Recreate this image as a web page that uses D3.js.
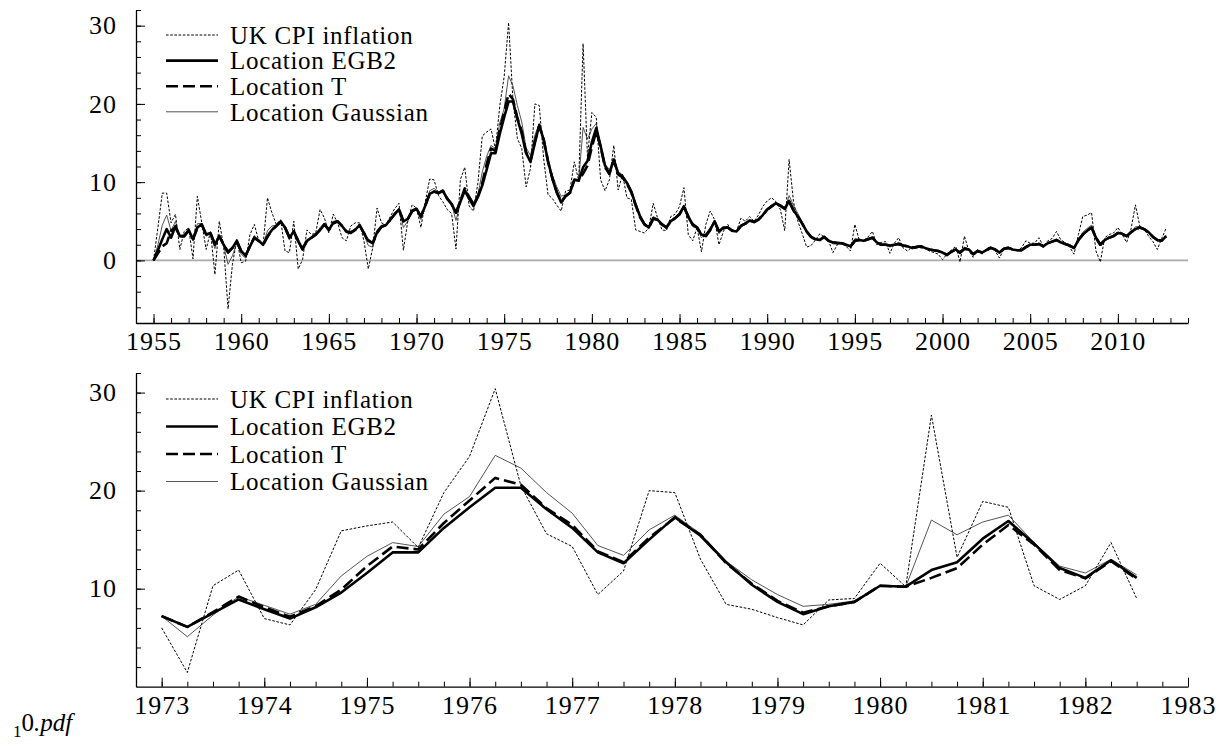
<!DOCTYPE html>
<html>
<head>
<meta charset="utf-8">
<script src="https://cdn.jsdelivr.net/npm/d3@7"></script>
<style>
  body { margin: 0; background: #fff; }
  svg { display: block; }
</style>
</head>
<body>
<div id="chart"></div>
<script>
// UK CPI inflation and estimated location, quarterly, first value 1955Q1
var startYear = 1955;

var cpi = [
  0, 4.2, 8.6, 8.6,   4.8, 5.9, 1.4, 3.7,   4.2, 0.2, 8.2, 4.8,   1.4, 3.7, -1.8, 5.0,
  1.8, -6.2, -0.5, 2.7,   -0.3, -0.1, 3.3, 4.6,   2.5, 2.0, 8.0, 6.1,   4.6, 5.2, 1.2, 1.0,
  5.0, -1.1, 0.1, 3.9,   3.3, 3.5, 6.5, 5.4,   3.5, 5.9, 4.8, 2.9,   2.5, 4.4, 4.8, 4.8,
  2.5, -1.1, 1.6, 6.7,   4.8, 4.5, 5.6, 6.6,   7.3, 1.3, 5.0, 7.1,   6.7, 4.2, 7.5, 10.4,
  10.3, 8.3, 7.5, 6.5,   6.0, 1.45, 10.3, 11.9,   6.95, 6.3, 9.9, 15.9,   16.4, 16.8, 14.2, 19.8,
  23.5, 30.4, 20.5, 15.6,   14.3, 9.4, 11.8, 20.0,   19.8, 13.0, 8.4, 7.9,   7.05, 6.3, 8.85, 9.0,
  12.6, 10.2, 27.7, 13.2,   18.9, 18.3, 10.3, 8.9,   10.3, 14.7, 9.0, 11.0,   8.0, 7.8, 3.9, 3.7,
  3.5, 4.2, 7.3, 5.4,   3.9, 3.8, 5.6, 5.9,   6.9, 9.3, 3.3, 2.5,   4.2, 1.1, 4.6, 6.3,
  5.2, 2.0, 3.7, 4.6,   3.7, 3.7, 5.4, 5.0,   5.6, 5.0, 5.8, 6.9,   7.6, 8.0, 7.5, 6.5,
  3.8, 12.9, 7.5, 5.0,   3.4, 1.7, 1.9, 2.6,   3.4, 3.0, 2.5, 1.0,   2.0, 2.3, 1.8, 1.2,
  4.6, 2.6, 2.5, 3.0,   3.7, 2.0, 2.3, 2.4,   0.9, 2.2, 2.9, 1.6,   1.2, 1.7, 1.8, 1.6,
  1.5, 1.2, 1.0, 0.8,   0.1, 0.8, 1.3, 1.8,   -0.2, 3.1, 1.2, 0.4,   1.4, 0.8, 1.5, 1.8,
  1.2, 0.3, 1.5, 1.7,   1.4, 1.3, 1.6, 2.5,   2.2, 2.2, 2.9, 1.8,   2.5, 2.8, 3.7, 2.6,
  2.3, 1.7, 0.8, 3.3,   5.6, 5.8, 6.1, 1.2,   -0.2, 2.9, 3.3, 3.5,   4.2, 3.3, 2.3, 4.0,
  7.1, 4.4, 4.0, 3.1,   2.4, 1.4, 2.8, 4.1
];

var egb2 = [
  0, 1.3, 2.7, 4.0,   2.9, 4.4, 3.1, 3.1,   3.9, 2.7, 4.2, 4.6,   3.3, 3.5, 2.0, 3.1,
  2.0, 1.0, 1.6, 2.5,   1.2, 0.6, 1.8, 2.9,   2.5, 2.0, 3.1, 3.9,   4.4, 5.0, 4.2, 2.9,
  3.7, 2.5, 1.4, 2.5,   2.9, 3.3, 3.9, 4.6,   3.9, 4.8, 5.0, 4.4,   3.7, 3.5, 3.9, 4.5,
  3.5, 2.5, 2.2, 3.6,   4.3, 4.5, 5.2, 5.9,   6.5, 5.0, 5.3, 6.3,   6.6, 5.6, 7.0, 8.5,
  8.8, 8.6, 8.9, 7.9,   7.2, 6.1, 7.5, 8.9,   7.9, 6.95, 8.1, 9.6,   11.6, 13.7, 13.7, 16.2,
  18.3, 20.3, 20.3, 18.1,   16.2, 13.7, 12.6, 15.0,   17.3, 15.4, 12.7, 10.4,   8.65, 7.4, 8.2, 8.65,
  10.3, 10.2, 11.9, 12.7,   15.1, 16.9, 14.6, 12.1,   11.1, 12.9, 11.1, 10.7,   9.9, 8.8, 7.1, 5.6,
  4.6, 4.2, 5.4, 5.2,   4.6, 4.2, 5.0, 5.4,   5.9, 6.9, 5.6, 4.6,   4.2, 3.3, 3.1, 3.9,
  5.0, 3.7, 4.2, 4.2,   3.8, 3.7, 4.4, 4.7,   5.1, 4.9, 5.2, 5.8,   6.5, 6.9, 7.3, 7.0,
  6.6, 7.6, 6.4, 5.6,   4.7, 3.7, 3.0, 2.7,   2.6, 3.0, 2.5, 2.3,   2.25, 2.2, 2.0, 1.8,
  2.5, 2.6, 2.5, 2.7,   2.9, 2.3, 2.0, 2.0,   1.9, 2.0, 2.1, 1.9,   1.8, 1.6, 1.7, 1.8,
  1.6, 1.4, 1.3, 1.2,   1.0, 0.7, 1.1, 1.4,   1.0, 1.5, 1.4, 0.8,   1.2, 1.0, 1.3, 1.6,
  1.4, 1.0, 1.5, 1.6,   1.4, 1.3, 1.3, 1.7,   2.0, 2.0, 2.1, 1.8,   2.2, 2.4, 2.6, 2.3,
  2.1, 1.9, 1.6, 2.6,   3.3, 3.8, 4.2, 2.9,   2.0, 2.6, 2.9, 3.1,   3.5, 3.4, 3.1, 3.6,
  4.0, 4.2, 4.0, 3.6,   3.0, 2.6, 2.5, 3.1
];

var locT = [
  0, 0.9, 1.8, 2.2,   3.8, 4.2, 3.1, 3.1,   3.8, 2.8, 4.1, 4.6,   3.3, 3.4, 2.1, 3.1,
  2.0, 1.1, 1.6, 2.4,   1.2, 0.6, 1.8, 2.9,   2.5, 2.0, 3.0, 3.9,   4.4, 4.9, 4.2, 3.0,
  3.7, 2.5, 1.5, 2.5,   2.9, 3.3, 3.9, 4.6,   3.9, 4.7, 5.0, 4.4,   3.7, 3.6, 3.9, 4.5,
  3.5, 2.6, 2.2, 3.5,   4.3, 4.5, 5.2, 5.9,   6.5, 5.0, 5.3, 6.3,   6.6, 5.6, 7.0, 8.5,
  8.8, 8.6, 8.9, 7.9,   7.2, 6.1, 7.6, 9.2,   8.1, 7.15, 8.2, 9.9,   12.3, 14.3, 14.0, 16.7,
  19.0, 21.3, 20.6, 18.2,   16.5, 13.8, 12.7, 15.2,   17.2, 15.5, 12.6, 10.5,   8.75, 7.55, 8.2, 8.65,
  10.3, 10.2, 11.1, 12.1,   14.5, 16.5, 14.5, 11.9,   11.05, 12.8, 11.0, 10.6,   9.8, 8.7, 7.0, 5.5,
  4.6, 4.2, 5.3, 5.2,   4.6, 4.2, 5.0, 5.4,   5.9, 6.8, 5.6, 4.6,   4.2, 3.3, 3.2, 3.9,
  4.9, 3.7, 4.1, 4.2,   3.8, 3.7, 4.4, 4.7,   5.1, 4.9, 5.2, 5.8,   6.5, 6.9, 7.3, 7.0,
  6.6, 7.5, 6.4, 5.6,   4.7, 3.7, 3.0, 2.7,   2.6, 3.0, 2.5, 2.3,   2.2, 2.2, 2.0, 1.8,
  2.5, 2.6, 2.5, 2.7,   2.9, 2.3, 2.0, 2.0,   1.9, 2.0, 2.1, 1.9,   1.8, 1.6, 1.7, 1.8,
  1.6, 1.4, 1.3, 1.2,   1.0, 0.7, 1.1, 1.4,   1.0, 1.5, 1.4, 0.8,   1.2, 1.0, 1.3, 1.6,
  1.4, 1.0, 1.5, 1.6,   1.4, 1.3, 1.3, 1.7,   2.0, 2.0, 2.1, 1.8,   2.2, 2.4, 2.6, 2.3,
  2.1, 1.9, 1.6, 2.6,   3.3, 3.8, 4.2, 2.9,   2.0, 2.6, 2.9, 3.1,   3.5, 3.4, 3.1, 3.6,
  4.0, 4.2, 4.0, 3.6,   3.0, 2.6, 2.5, 3.1
];

var gauss = [
  0, 2.0, 4.5, 5.8,   3.8, 5.0, 3.0, 3.3,   4.0, 2.5, 4.7, 4.7,   3.1, 3.4, 1.5, 3.3,
  1.9, -0.5, 0.6, 2.2,   0.8, 0.3, 1.9, 3.2,   2.5, 2.0, 3.8, 4.4,   4.5, 5.1, 3.9, 2.6,
  3.9, 2.2, 1.2, 2.6,   3.0, 3.3, 4.2, 4.8,   3.8, 5.0, 5.1, 4.3,   3.5, 3.6, 4.0, 4.6,
  3.3, 1.9, 1.7, 3.9,   4.5, 4.6, 5.3, 6.1,   6.7, 4.2, 5.0, 6.5,   6.7, 5.2, 7.1, 8.9,
  9.2, 8.8, 8.8, 7.7,   7.2, 5.1, 7.3, 9.2,   8.3, 7.4, 8.4, 11.3,   13.3, 14.7, 14.3, 17.6,
  19.4, 23.6, 22.3, 19.8,   17.7, 14.4, 13.4, 16.0,   17.5, 15.6, 12.8, 10.9,   9.4, 8.2, 8.4, 8.75,
  10.3, 10.2, 17.0, 15.5,   16.8, 17.5, 14.7, 12.3,   11.6, 13.0, 11.4, 10.9,   10.1, 9.0, 7.4, 5.9,
  4.8, 4.3, 5.6, 5.3,   4.5, 4.1, 5.1, 5.5,   6.1, 7.1, 5.3, 4.3,   4.1, 2.9, 3.4, 4.2,
  5.1, 3.4, 4.1, 4.3,   3.8, 3.7, 4.5, 4.8,   5.2, 5.0, 5.3, 5.9,   6.6, 7.1, 7.4, 7.1,
  6.5, 8.3, 7.0, 6.0,   4.9, 3.7, 3.1, 2.8,   2.7, 3.1, 2.6, 2.1,   2.1, 2.2, 2.0, 1.7,
  2.8, 2.7, 2.5, 2.7,   3.0, 2.3, 2.1, 2.1,   1.7, 2.0, 2.3, 1.9,   1.7, 1.6, 1.7, 1.8,
  1.6, 1.4, 1.3, 1.2,   0.9, 0.7, 1.1, 1.5,   0.8, 1.7, 1.5, 0.8,   1.2, 1.0, 1.3, 1.6,
  1.5, 1.0, 1.5, 1.6,   1.4, 1.3, 1.4, 1.8,   2.0, 2.0, 2.2, 1.9,   2.2, 2.4, 2.7, 2.4,
  2.1, 1.9, 1.5, 2.7,   3.6, 4.1, 4.5, 3.0,   2.0, 2.6, 2.9, 3.2,   3.6, 3.5, 3.1, 3.6,
  4.3, 4.3, 4.1, 3.6,   3.0, 2.5, 2.5, 3.2
];

var seriesNames = ["UK CPI inflation", "Location EGB2", "Location T", "Location Gaussian"];

// axis ticks and labels
var topXLabels = [1955, 1960, 1965, 1970, 1975, 1980, 1985, 1990, 1995, 2000, 2005, 2010];
var topYLabels = [0, 10, 20, 30];
var bottomXLabels = [1973, 1974, 1975, 1976, 1977, 1978, 1979, 1980, 1981, 1982, 1983];
var bottomYLabels = [10, 20, 30];

// the lower panel repeats quarters 68..106 of the series, drawn from 1973 as in the original
var zoomFirst = 68, zoomLast = 106, zoomStartYear = 1973;

var width = 1224, height = 748;
var serif = "'Liberation Serif', 'Times New Roman', Times, serif";

var svg = d3.select("#chart")
  .append("svg")
  .attr("width", width)
  .attr("height", height)
  .style("background", "#fff");

var styles = [
  { stroke: "#000", width: 1, dash: "2.6,1.6" },
  { stroke: "#000", width: 2.6, dash: null },
  { stroke: "#000", width: 2.6, dash: "12,5" },
  { stroke: "#555", width: 1, dash: null }
];

var allSeries = [cpi, egb2, locT, gauss];

function drawPanel(cfg) {
  var g = svg.append("g");

  var x = d3.scaleLinear().domain(cfg.xDomain).range([136, 1188]);
  var y = d3.scaleLinear().domain(cfg.yDomain).range(cfg.yRange);

  // gray zero line
  if (cfg.zeroLine) {
    g.append("line")
      .attr("x1", x.range()[0]).attr("x2", x.range()[1])
      .attr("y1", y(0)).attr("y2", y(0))
      .attr("stroke", "#aaa")
      .attr("stroke-width", 1.6);
  }

  // series lines, gaussian first so the heavy lines sit on top
  var order = [3, 0, 2, 1];
  order.forEach(function(k) {
    var values = allSeries[k].slice(cfg.first, cfg.last + 1);
    var line = d3.line()
      .x(function(d, i) { return x(cfg.startYear + i / 4); })
      .y(function(d) { return y(d); });
    g.append("path")
      .datum(values)
      .attr("fill", "none")
      .attr("stroke", styles[k].stroke)
      .attr("stroke-width", styles[k].width)
      .attr("stroke-dasharray", styles[k].dash)
      .attr("stroke-linejoin", "round")
      .attr("d", line);
  });

  // x axis: minor then major ticks, pointing up
  var xBottom = y.range()[0];
  var xMinor = g.append("g")
    .attr("transform", `translate(0, ${xBottom})`)
    .call(d3.axisBottom(x).tickValues(cfg.xMinor).tickSize(-5).tickSizeOuter(0).tickFormat(""));
  xMinor.select(".domain").remove();

  var xMajor = g.append("g")
    .attr("transform", `translate(0, ${xBottom})`)
    .call(d3.axisBottom(x).tickValues(cfg.xLabels).tickSize(-9).tickSizeOuter(0)
      .tickPadding(9).tickFormat(d3.format("d")));

  // y axis
  var yMinor = g.append("g")
    .attr("transform", "translate(136, 0)")
    .call(d3.axisLeft(y).tickValues(cfg.yMinor).tickSize(-5).tickSizeOuter(0).tickFormat(""));
  yMinor.select(".domain").remove();

  var yMajor = g.append("g")
    .attr("transform", "translate(136, 0)")
    .call(d3.axisLeft(y).tickValues(cfg.yLabels).tickSize(-9).tickSizeOuter(0)
      .tickPadding(19).tickFormat(d3.format("d")));

  [xMinor, xMajor, yMinor, yMajor].forEach(function(a) {
    a.selectAll("line").attr("stroke", "#000").attr("stroke-width", 1);
    a.selectAll(".domain").attr("stroke", "#000").attr("stroke-width", 1.3);
    a.selectAll("text")
      .attr("fill", "#000")
      .style("font-family", serif)
      .style("font-size", "26px")
      .style("letter-spacing", "1px");
  });

  // legend
  var legend = g.append("g");
  seriesNames.forEach(function(name, k) {
    var ly = cfg.legendTop + k * cfg.legendStep;
    legend.append("line")
      .attr("x1", 166).attr("x2", 218)
      .attr("y1", ly).attr("y2", ly)
      .attr("stroke", styles[k].stroke)
      .attr("stroke-width", styles[k].width)
      .attr("stroke-dasharray", styles[k].dash);
    legend.append("text")
      .attr("x", 230)
      .attr("y", ly)
      .attr("dy", "0.35em")
      .style("font-family", serif)
      .style("font-size", "25px")
      .style("letter-spacing", "0.7px")
      .text(name);
  });
}

// upper panel: whole sample
drawPanel({
  xDomain: [1954, 2014],
  yDomain: [-8, 32],
  yRange: [323, 10],
  first: 0,
  last: cpi.length - 1,
  startYear: startYear,
  xLabels: topXLabels,
  xMinor: d3.range(1955, 2015),
  yLabels: topYLabels,
  yMinor: d3.range(-8, 33, 2),
  zeroLine: true,
  legendTop: 35,
  legendStep: 25.6
});

// lower panel: the 1970s peak
drawPanel({
  xDomain: [1972.75, 1983],
  yDomain: [0, 32],
  yRange: [686.7, 373],
  first: zoomFirst,
  last: zoomLast,
  startYear: zoomStartYear,
  xLabels: bottomXLabels,
  xMinor: d3.range(1973, 1983.01, 0.25),
  yLabels: bottomYLabels,
  yMinor: d3.range(2, 33, 2),
  zeroLine: false,
  legendTop: 399,
  legendStep: 27.5
});

// file name left over at the foot of the page
var foot = svg.append("text")
  .attr("x", 13)
  .attr("y", 731)
  .style("font-family", serif)
  .style("font-size", "25px");
foot.append("tspan").attr("font-size", "17px").attr("dy", "6").text("1");
foot.append("tspan").attr("dy", "-6").text("0");
foot.append("tspan").style("font-style", "italic").text(".pdf");
</script>
</body>
</html>
